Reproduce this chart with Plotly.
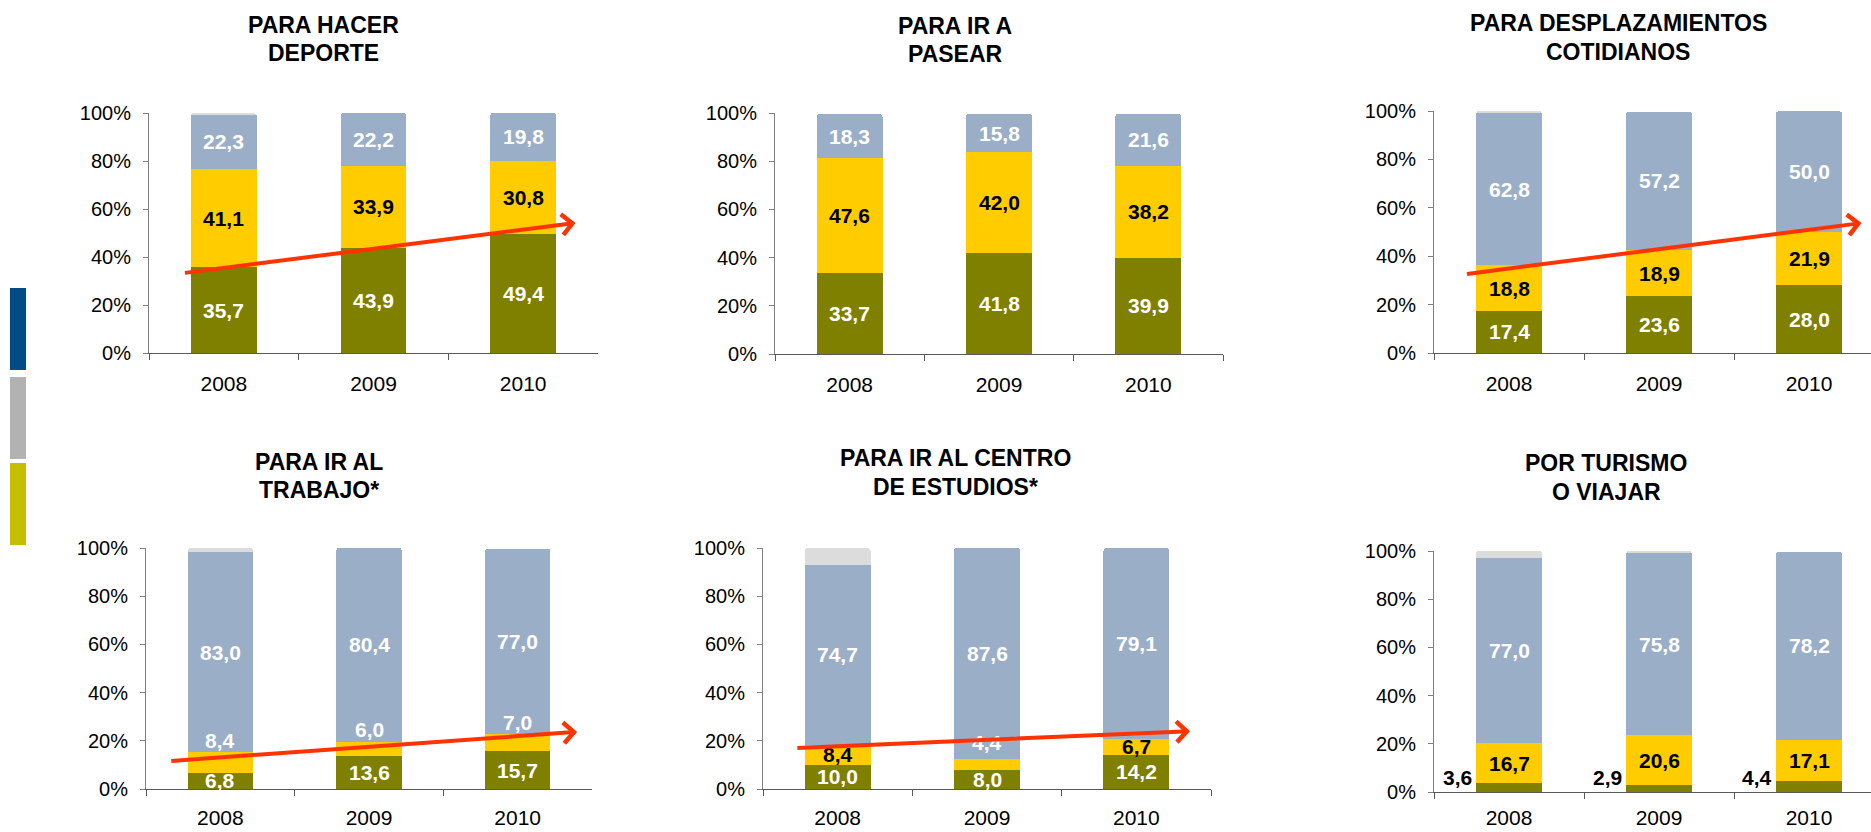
import plotly.graph_objects as go

# ---------------- data ----------------
years = ["2008", "2009", "2010"]
ytick_values = [0, 20, 40, 60, 80, 100]
ytick_labels = ["0%", "20%", "40%", "60%", "80%", "100%"]

titles = [
    ["PARA HACER", "DEPORTE"],
    ["PARA IR A", "PASEAR"],
    ["PARA DESPLAZAMIENTOS", "COTIDIANOS"],
    ["PARA IR AL", "TRABAJO*"],
    ["PARA IR AL CENTRO", "DE ESTUDIOS*"],
    ["POR TURISMO", "O VIAJAR"],
]

olive_vals = [
    [35.7, 43.9, 49.4],
    [33.7, 41.8, 39.9],
    [17.4, 23.6, 28.0],
    [6.8, 13.6, 15.7],
    [10.0, 8.0, 14.2],
    [3.6, 2.9, 4.4],
]
yellow_vals = [
    [41.1, 33.9, 30.8],
    [47.6, 42.0, 38.2],
    [18.8, 18.9, 21.9],
    [8.4, 6.0, 7.0],
    [8.4, 4.4, 6.7],
    [16.7, 20.6, 17.1],
]
blue_vals = [
    [22.3, 22.2, 19.8],
    [18.3, 15.8, 21.6],
    [62.8, 57.2, 50.0],
    [83.0, 80.4, 77.0],
    [74.7, 87.6, 79.1],
    [77.0, 75.8, 78.2],
]
gray_vals = [
    [0.9, 0.0, 0.0],
    [0.0, 0.0, 0.0],
    [1.0, 0.0, 0.0],
    [1.8, 0.0, 0.0],
    [6.9, 0.0, 0.0],
    [2.7, 0.7, 0.0],
]

# ---------------- styles / layout ----------------
W, H = 1871, 832
FONT = "Liberation Sans, Arial, sans-serif"
C_OLIVE = "#808000"
C_YELLOW = "#FFCC00"
C_BLUE = "#9BAEC7"
C_GRAY = "#DCDCDC"
C_ARROW = "#FF3300"

# pixel boxes of each plot area: (x_left, x_right, y_top(100%), y_bottom(0%))
boxes = [
    (149, 598, 113, 353),
    (775, 1223, 113, 354),
    (1434, 1871, 111, 353),
    (146, 592, 548, 789),
    (763, 1211, 548, 789),
    (1434, 1871, 551, 792),
]
# visible category range per panel (third column is cut by the picture edge)
xranges = [
    [-0.5, 2.5], [-0.5, 2.5], [-0.5, 2.413],
    [-0.5, 2.5], [-0.5, 2.5], [-0.5, 2.413],
]
# x tick label stand-off per panel (px)
x_standoff = [12, 12, 12, 10, 10, 7]
# title line centres (px)
title_pos = [
    (323, 25, 53), (955, 26, 54), (1618, 23, 52),
    (319, 462, 490), (955, 458, 487), (1606, 463, 492),
]
# trend arrows: (x_start, y_start, x_tip, y_tip) in axis units, None = no arrow
arrows = [
    (-0.27, 33.3, 2.35, 54.2),
    None,
    (-0.29, 32.6, 2.35, 53.7),
    (-0.34, 11.6, 2.40, 23.7),
    (-0.28, 17.0, 2.36, 24.0),
    None,
]

def fx(px):
    return px / W

def fy(py):
    return 1 - py / H

def fmt(v):
    return f"{v:.1f}".replace(".", ",")

fig = go.Figure()
annotations = []
shapes = []

for i in range(6):
    n = "" if i == 0 else str(i + 1)
    xa, ya = "x" + n, "y" + n
    for vals, col in ((olive_vals[i], C_OLIVE), (yellow_vals[i], C_YELLOW),
                      (blue_vals[i], C_BLUE), (gray_vals[i], C_GRAY)):
        fig.add_trace(go.Bar(
            x=years, y=vals, xaxis=xa, yaxis=ya,
            marker=dict(color=col, line=dict(width=0)),
            showlegend=False, hoverinfo="skip",
        ))

    xl, xr, yt, yb = boxes[i]
    axis_common = dict(showgrid=False, zeroline=False, fixedrange=True, automargin=False)
    fig.layout["xaxis" + n] = dict(
        domain=[fx(xl), fx(xr)], anchor=ya, type="category",
        categoryorder="array", categoryarray=years, range=xranges[i],
        showline=True, linecolor="#595959", linewidth=1,
        ticks="outside", tickson="boundaries", ticklen=6, tickcolor="#595959",
        tickfont=dict(family=FONT, size=21, color="#000000"),
        ticklabelstandoff=x_standoff[i],
        **axis_common,
    )
    fig.layout["yaxis" + n] = dict(
        domain=[fy(yb), fy(yt)], anchor=xa, range=[0, 100],
        tickmode="array", tickvals=ytick_values, ticktext=ytick_labels,
        showline=True, linecolor="#7F7F7F", linewidth=1,
        ticks="outside", ticklen=5, tickcolor="#7F7F7F",
        tickfont=dict(family=FONT, size=20, color="#000000"),
        ticklabelstandoff=8,
        **axis_common,
    )

    # titles
    tx, ty1, ty2 = title_pos[i]
    for line, ty in zip(titles[i], (ty1, ty2)):
        annotations.append(dict(
            x=fx(tx), y=fy(ty), xref="paper", yref="paper",
            text=f"<b>{line}</b>", showarrow=False,
            xanchor="center", yanchor="middle",
            font=dict(family=FONT, size=23, color="#000000"),
        ))

    # value labels
    def lab(x, y, v, color, xanchor="center", xshift=0):
        annotations.append(dict(
            x=x, y=y, xref=xa, yref=ya, text=f"<b>{fmt(v)}</b>",
            showarrow=False, xanchor=xanchor, yanchor="middle", xshift=xshift,
            font=dict(family=FONT, size=21, color=color),
        ))

    for j in range(3):
        o, yv, b = olive_vals[i][j], yellow_vals[i][j], blue_vals[i][j]
        # olive
        if i == 5:
            lab(j, 6.0, o, "#000000", xanchor="right", xshift=-35)
        else:
            lab(j, o / 2, o, "#FFFFFF")
        # yellow
        if i == 3:
            lab(j, o + yv + 5.0, yv, "#FFFFFF")
        elif i == 4 and j == 1:
            lab(j, o + yv + 7.0, yv, "#FFFFFF")
        else:
            lab(j, o + yv / 2, yv, "#000000")
        # blue
        lab(j, o + yv + b / 2, b, "#FFFFFF")

    # trend arrow
    if arrows[i] is not None:
        x0, y0, x1, y1 = arrows[i]
        annotations.append(dict(
            x=x1, y=y1, ax=x0, ay=y0, xref=xa, yref=ya, axref=xa, ayref=ya,
            text="", showarrow=True, arrowhead=4, arrowsize=1,
            arrowwidth=4, arrowcolor=C_ARROW, standoff=0,
        ))

# left side colour blocks
for col, (y0, y1) in zip(["#004C87", "#B2B2B2", "#C4C000"],
                         [(288, 370), (377, 459), (463, 545)]):
    shapes.append(dict(
        type="rect", xref="paper", yref="paper",
        x0=fx(10), x1=fx(26), y0=fy(y1), y1=fy(y0),
        fillcolor=col, line=dict(width=0), layer="above",
    ))

fig.update_layout(
    width=W, height=H,
    margin=dict(l=0, r=0, t=0, b=0, pad=0, autoexpand=False),
    paper_bgcolor="#FFFFFF", plot_bgcolor="#FFFFFF",
    barmode="stack", bargap=0.56, barcornerradius=3,
    annotations=annotations, shapes=shapes,
    font=dict(family=FONT),
)

fig.write_html(
    "out.html",
    config={"displayModeBar": False},
    post_script="document.body.style.margin='0';document.body.style.overflow='hidden';",
)
